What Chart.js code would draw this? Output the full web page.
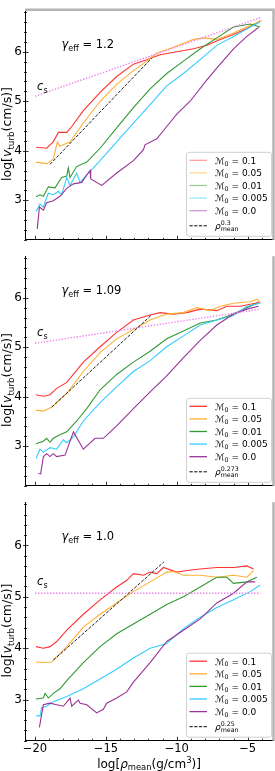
<!DOCTYPE html>
<html>
<head>
<meta charset="utf-8">
<script src="https://cdn.jsdelivr.net/npm/chart.js@4.4.1/dist/chart.umd.min.js"></script>
<style>
  html, body { margin: 0; padding: 0; background: #fff; }
  #wrap { position: relative; width: 275px; height: 771px; overflow: hidden; }
  canvas { position: absolute; left: 0; }
</style>
</head>
<body>
<div id="wrap">
  <canvas id="p1" width="275" height="250" style="top:0px"></canvas>
  <canvas id="p2" width="275" height="250" style="top:246px"></canvas>
  <canvas id="p3" width="275" height="279" style="top:492px"></canvas>
</div>
<script>
// values: [log rho_mean, log v_turb]
const mach = ["0.1", "0.05", "0.01", "0.005", "0.0"];
const colors = ["#ff3333", "#ffb133", "#339933", "#33ccff", "#993399"];
const paleColors = ["#ff9f9f", "#ffd89a", "#9bcc9b", "#9be5ff", "#cc9bcc"];
const xTicks = [-20, -15, -10, -5];

// gamma_eff = 1.2
const g12_m01 = [[-19.93,4.07],[-19.18,4.05],[-18.71,4.18],[-18.35,4.37],[-17.76,4.37],[-17.41,4.49],[-16.59,4.81],[-15.41,5.18],[-14.24,5.50],[-13.06,5.75],[-12.12,5.84],[-11.18,5.94],[-10.0,6.0],[-8.82,6.06],[-7.88,6.13],[-6.94,6.25],[-6.0,6.35],[-5.06,6.47],[-4.12,6.62]];
const g12_m005 = [[-19.93,3.77],[-19.18,3.74],[-18.71,3.83],[-18.42,4.18],[-18.24,4.09],[-17.53,4.18],[-16.59,4.56],[-15.41,5.0],[-14.24,5.34],[-13.06,5.62],[-12.12,5.81],[-11.41,5.97],[-10.24,6.09],[-8.82,6.25],[-8.12,6.28],[-7.18,6.25],[-6.0,6.38],[-5.06,6.5],[-4.0,6.63]];
const g12_m001 = [[-19.93,3.07],[-19.65,3.11],[-19.41,3.08],[-19.06,3.27],[-18.59,3.25],[-18.12,3.46],[-17.76,3.49],[-17.65,3.65],[-17.53,3.46],[-17.06,3.68],[-16.35,3.77],[-15.41,4.05],[-14.24,4.46],[-13.06,4.87],[-11.88,5.25],[-10.71,5.56],[-9.53,5.81],[-8.35,6.06],[-7.18,6.28],[-6.0,6.5],[-4.82,6.56],[-4.12,6.5]];
const g12_m0005 = [[-19.93,2.77],[-19.65,2.92],[-19.41,2.86],[-19.06,3.14],[-18.71,3.11],[-18.35,3.18],[-18.12,3.11],[-17.76,3.46],[-17.53,3.30],[-17.06,3.55],[-16.82,3.36],[-16.24,3.55],[-15.41,3.80],[-14.24,4.18],[-13.06,4.56],[-11.88,4.93],[-10.71,5.31],[-9.53,5.56],[-8.35,5.84],[-7.18,6.13],[-6.0,6.31],[-4.82,6.5],[-4.12,6.6]];
const g12_m0 = [[-19.84,2.42],[-19.69,2.86],[-19.41,2.8],[-19.18,2.95],[-18.71,2.99],[-18.24,3.08],[-17.76,3.24],[-17.29,3.33],[-16.71,3.36],[-16.12,3.60],[-16.07,3.43],[-15.29,3.30],[-14.24,3.55],[-13.06,3.80],[-12.35,4.02],[-12.24,4.12],[-11.41,4.24],[-10.71,4.49],[-10.0,4.74],[-9.06,5.0],[-7.88,5.43],[-6.94,5.75],[-6.0,6.06],[-5.06,6.31],[-4.24,6.49]];
const g12_cs = [[-20,5.1],[-4.1,6.69]];
const g12_fit = [[-18.94,3.725],[-11.76,5.875]];

// gamma_eff = 1.09
const g109_m01 = [[-19.93,4.04],[-19.41,4.01],[-18.94,4.04],[-18.47,4.17],[-17.76,4.29],[-16.59,4.70],[-15.41,5.01],[-14.24,5.30],[-13.06,5.55],[-11.88,5.65],[-11.18,5.70],[-10.24,5.67],[-9.29,5.70],[-8.35,5.77],[-7.18,5.74],[-6.47,5.83],[-5.53,5.83],[-4.47,5.89],[-4.12,5.92]];
const g109_m005 = [[-19.93,3.73],[-19.41,3.71],[-18.82,3.79],[-17.76,4.07],[-16.59,4.51],[-15.41,4.89],[-14.24,5.17],[-13.06,5.36],[-11.88,5.55],[-10.71,5.67],[-9.53,5.70],[-8.59,5.80],[-7.65,5.74],[-6.94,5.83],[-6.0,5.89],[-4.82,5.92],[-4.35,5.97],[-4.12,5.89]];
const g109_m001 = [[-19.93,3.05],[-19.41,3.10],[-19.18,3.16],[-18.94,3.08],[-18.71,3.16],[-18.24,3.23],[-17.76,3.29],[-17.06,3.51],[-16.35,3.76],[-15.41,4.14],[-14.24,4.45],[-13.06,4.70],[-11.88,4.92],[-10.71,5.17],[-9.53,5.33],[-8.35,5.49],[-7.18,5.55],[-6.0,5.67],[-5.06,5.80],[-4.35,5.89]];
const g109_m0005 = [[-19.93,2.75],[-19.65,2.94],[-19.41,2.88],[-18.94,2.97],[-18.47,2.94],[-18.0,3.13],[-17.76,3.07],[-17.29,3.19],[-16.59,3.51],[-15.41,3.88],[-14.24,4.20],[-13.06,4.51],[-11.88,4.73],[-10.71,5.01],[-9.53,5.23],[-8.35,5.45],[-7.18,5.55],[-6.0,5.64],[-5.06,5.83],[-4.12,5.89]];
const g109_m0 = [[-19.76,2.45],[-19.6,2.44],[-19.41,2.79],[-19.18,2.85],[-18.94,2.79],[-18.71,2.85],[-18.47,2.79],[-17.88,2.82],[-17.29,3.29],[-16.59,2.94],[-15.76,3.16],[-15.18,3.16],[-14.24,3.41],[-13.06,3.76],[-11.88,4.10],[-10.71,4.42],[-9.53,4.79],[-8.35,5.14],[-7.18,5.45],[-6.0,5.67],[-5.06,5.77],[-4.24,5.83]];
const g109_cs = [[-20,5.08],[-4.1,5.77]];
const g109_fit = [[-18.82,3.79],[-11.83,5.64]];

// gamma_eff = 1.0
const g10_m01 = [[-19.93,4.03],[-19.41,4.0],[-18.94,4.03],[-18.47,4.13],[-17.76,4.35],[-16.59,4.66],[-15.41,4.94],[-14.24,5.19],[-13.53,5.32],[-13.06,5.45],[-12.35,5.42],[-11.88,5.48],[-11.41,5.45],[-10.94,5.57],[-10.0,5.48],[-9.29,5.51],[-8.35,5.54],[-7.18,5.57],[-6.0,5.57],[-5.06,5.60],[-4.59,5.54]];
const g10_m005 = [[-19.93,3.73],[-19.41,3.72],[-18.82,3.73],[-17.76,4.03],[-16.59,4.41],[-15.41,4.66],[-14.24,4.88],[-13.06,5.10],[-11.88,5.29],[-10.71,5.48],[-10.24,5.49],[-9.53,5.42],[-8.35,5.42],[-7.18,5.38],[-6.0,5.42],[-5.06,5.38],[-4.59,5.51]];
const g10_m001 = [[-19.93,3.01],[-19.41,3.03],[-19.29,3.12],[-19.06,3.03],[-18.71,3.12],[-18.24,3.21],[-17.76,3.37],[-16.59,3.72],[-15.41,4.03],[-14.24,4.28],[-13.06,4.47],[-11.88,4.66],[-10.71,4.85],[-9.53,5.0],[-8.35,5.19],[-7.18,5.38],[-6.47,5.38],[-6.0,5.26],[-5.06,5.29],[-4.35,5.38]];
const g10_m0005 = [[-19.93,2.69],[-19.65,2.68],[-19.53,2.84],[-19.18,2.87],[-18.71,2.96],[-17.76,3.06],[-16.59,3.21],[-15.41,3.40],[-14.24,3.59],[-13.06,3.81],[-11.88,4.0],[-10.71,4.09],[-9.53,4.38],[-8.35,4.60],[-7.18,4.79],[-6.0,4.94],[-4.82,5.10],[-4.12,5.23]];
const g10_m0 = [[-19.69,2.46],[-19.41,2.90],[-18.94,2.93],[-18.47,2.90],[-18.0,2.87],[-17.53,3.03],[-17.41,2.87],[-16.94,2.99],[-16.82,2.93],[-16.35,2.90],[-15.65,2.74],[-15.18,2.81],[-14.94,2.93],[-14.24,3.03],[-13.53,3.15],[-13.06,3.34],[-11.88,3.72],[-10.71,4.13],[-9.53,4.35],[-8.35,4.57],[-7.18,4.88],[-6.0,5.07],[-5.06,5.29],[-4.47,5.29]];
const g10_cs = [[-20,5.07],[-4.1,5.07]];
const g10_fit = [[-18.7,3.77],[-10.9,5.68]];

const FONT = '"DejaVu Sans", sans-serif';

function pts(arr) { return arr.map(p => ({ x: p[0], y: p[1] })); }

// draw a row of text pieces: [text, kind]; kind: n normal, i italic, b subscript, p superscript, s stacked [sup, sub]
function drawRuns(ctx, runs, x, y, size, align) {
  const small = size * 0.7;
  const widths = runs.map(r => {
    if (r[1] === 's') {
      ctx.font = small + 'px ' + FONT;
      return Math.max(ctx.measureText(r[0][0]).width, ctx.measureText(r[0][1]).width);
    }
    ctx.font = (r[1] === 'i' ? 'oblique ' : '') + ((r[1] === 'b' || r[1] === 'p') ? small : size) + 'px ' + FONT;
    return ctx.measureText(r[0]).width;
  });
  const total = widths.reduce((a, b) => a + b, 0);
  let cx = align === 'center' ? x - total / 2 : x;
  ctx.textAlign = 'left';
  ctx.textBaseline = 'alphabetic';
  runs.forEach((r, i) => {
    if (r[1] === 's') {
      ctx.font = small + 'px ' + FONT;
      ctx.fillText(r[0][0], cx, y - size * 0.45);
      ctx.fillText(r[0][1], cx, y + size * 0.28);
    } else {
      ctx.font = (r[1] === 'i' ? 'oblique ' : '') + ((r[1] === 'b' || r[1] === 'p') ? small : size) + 'px ' + FONT;
      const dy = r[1] === 'b' ? size * 0.22 : r[1] === 'p' ? -size * 0.4 : 0;
      ctx.fillText(r[0], cx, y + dy);
    }
    cx += widths[i];
  });
  return total;
}

const decor = {
  id: 'decor',
  afterDraw(chart, args, o) {
    const { ctx, chartArea: a, scales: { x, y } } = chart;
    ctx.save();
    // tick marks, pointing in
    ctx.strokeStyle = '#000';
    ctx.lineWidth = 0.8;
    ctx.beginPath();
    x.ticks.forEach(t => {
      const px = Math.round(x.getPixelForValue(t.value)) + 0.5;
      const len = t.value % 5 === 0 ? 4 : 2;
      ctx.moveTo(px, a.bottom);
      ctx.lineTo(px, a.bottom - len);
    });
    y.ticks.forEach(t => {
      const py = Math.round(y.getPixelForValue(t.value)) + 0.5;
      const major = Math.abs(t.value - Math.round(t.value)) < 1e-6;
      ctx.moveTo(a.left - (major ? 2 : 1), py);
      ctx.lineTo(a.left + (major ? 3.5 : 2), py);
    });
    ctx.stroke();

    // light right spine, and top spine for first panel
    ctx.strokeStyle = '#b4b4b4';
    ctx.lineWidth = 2.5;
    ctx.beginPath();
    ctx.moveTo(a.right + 0.5, a.top);
    ctx.lineTo(a.right + 0.5, a.bottom);
    if (o.topLine) {
      ctx.moveTo(a.left, a.top - 0.5);
      ctx.lineTo(a.right + 1.7, a.top - 0.5);
    }
    ctx.stroke();

    ctx.fillStyle = '#000';
    // gamma_eff annotation
    drawRuns(ctx, [['γ', 'i'], ['eff', 'b'], [' = ' + o.gamma, 'n']], a.left + 36.5, a.top + 38, 11.5, 'left');
    // c_s label
    drawRuns(ctx, [['c', 'i'], ['s', 'b']], x.getPixelForValue(-19.85), y.getPixelForValue(5.22), 11.5, 'left');

    // y axis title
    ctx.save();
    ctx.translate(11, (a.top + a.bottom) / 2 + 9);
    ctx.rotate(-Math.PI / 2);
    drawRuns(ctx, [['log[', 'n'], ['v', 'i'], ['turb', 'b'], ['(cm/s)]', 'n']], 0, 0, 12.5, 'center');
    ctx.restore();

    if (o.xTitle) {
      drawRuns(ctx, [['log[', 'n'], ['ρ', 'i'], ['mean', 'b'], ['(g/cm', 'n'], ['3', 'p'], [')]', 'n']],
        (a.left + a.right) / 2, chart.height - 3.5, 12, 'center');
    }

    // legend
    const bx = 186, bw = 85, bh = 84;
    const by = a.bottom - 4 - bh;
    ctx.fillStyle = 'rgba(255,255,255,0.85)';
    ctx.strokeStyle = '#d0d0d0';
    ctx.lineWidth = 1;
    ctx.beginPath();
    ctx.roundRect(bx + 0.5, by + 0.5, bw, bh, 2.5);
    ctx.fill();
    ctx.stroke();
    const cols = o.pale ? paleColors : colors;
    mach.forEach((m, i) => {
      const ry = by + 8.5 + i * 12.6;
      ctx.strokeStyle = cols[i];
      ctx.lineWidth = 1.3;
      ctx.beginPath();
      ctx.moveTo(bx + 3.5, ry);
      ctx.lineTo(bx + 21, ry);
      ctx.stroke();
      ctx.fillStyle = '#000';
      drawRuns(ctx, [['ℳ', 'n'], ['0', 'b'], [' = ' + m, 'n']], bx + 29, ry + 3.3, 9, 'left');
    });
    const ry = by + 74;
    ctx.strokeStyle = '#000';
    ctx.lineWidth = 1;
    ctx.setLineDash([3.2, 1.5]);
    ctx.beginPath();
    ctx.moveTo(bx + 3.5, ry);
    ctx.lineTo(bx + 21, ry);
    ctx.stroke();
    ctx.setLineDash([]);
    ctx.fillStyle = '#000';
    drawRuns(ctx, [['ρ', 'i'], [[o.expo, 'mean'], 's']], bx + 29, ry + 3, 9, 'left');
    ctx.restore();
  }
};

function makePanel(id, series, cs, fit, o) {
  const sets = series.map((s, i) => ({
    data: pts(s), borderColor: colors[i], borderWidth: 1.1, pointRadius: 0, tension: 0, order: 6 - i
  }));
  sets.push({ data: pts(cs), borderColor: '#ee82ee', borderWidth: 1.4, borderDash: [1.4, 1.6], pointRadius: 0, order: 1 });
  sets.push({ data: pts(fit), borderColor: '#222', borderWidth: 1, borderDash: [3.2, 1.5], pointRadius: 0, order: 0 });
  return new Chart(document.getElementById(id), {
    type: 'line',
    data: { datasets: sets },
    plugins: [decor],
    options: {
      responsive: false,
      devicePixelRatio: 1,
      animation: false,
      events: [],
      layout: { padding: { top: 2, right: 2, left: 0, bottom: o.xTitle ? 0 : 2 } },
      plugins: { legend: { display: false }, tooltip: { enabled: false }, decor: o },
      scales: {
        x: {
          type: 'linear', min: -20.705, max: -3.216,
          grid: { display: false, drawTicks: false },
          border: { color: '#000', width: 1 },
          ticks: {
            display: !!o.xTitle, stepSize: 1, autoSkip: false, includeBounds: false, padding: 1,
            maxRotation: 0, color: '#000', font: { family: FONT, size: 11.5 },
            callback: v => xTicks.includes(v) ? '\u2212' + Math.abs(v) : ''
          },
          afterFit: s => { s.height = o.xTitle ? 30.3 : 0; }
        },
        y: {
          min: 2.2, max: 6.84,
          grid: { display: false, drawTicks: false },
          border: { color: '#000', width: 1 },
          ticks: {
            stepSize: 0.2, autoSkip: false, includeBounds: false, padding: 3, color: '#000',
            font: { family: FONT, size: 12 },
            callback: v => Math.abs(v - Math.round(v)) < 1e-6 ? String(Math.round(v)) : ''
          },
          afterFit: s => { s.width = 25; }
        }
      }
    }
  });
}

makePanel('p1', [g12_m01, g12_m005, g12_m001, g12_m0005, g12_m0], g12_cs, g12_fit, { gamma: '1.2', expo: '0.3', pale: true, topLine: true });
makePanel('p2', [g109_m01, g109_m005, g109_m001, g109_m0005, g109_m0], g109_cs, g109_fit, { gamma: '1.09', expo: '0.273' });
makePanel('p3', [g10_m01, g10_m005, g10_m001, g10_m0005, g10_m0], g10_cs, g10_fit, { gamma: '1.0', expo: '0.25', xTitle: true });
</script>
</body>
</html>
